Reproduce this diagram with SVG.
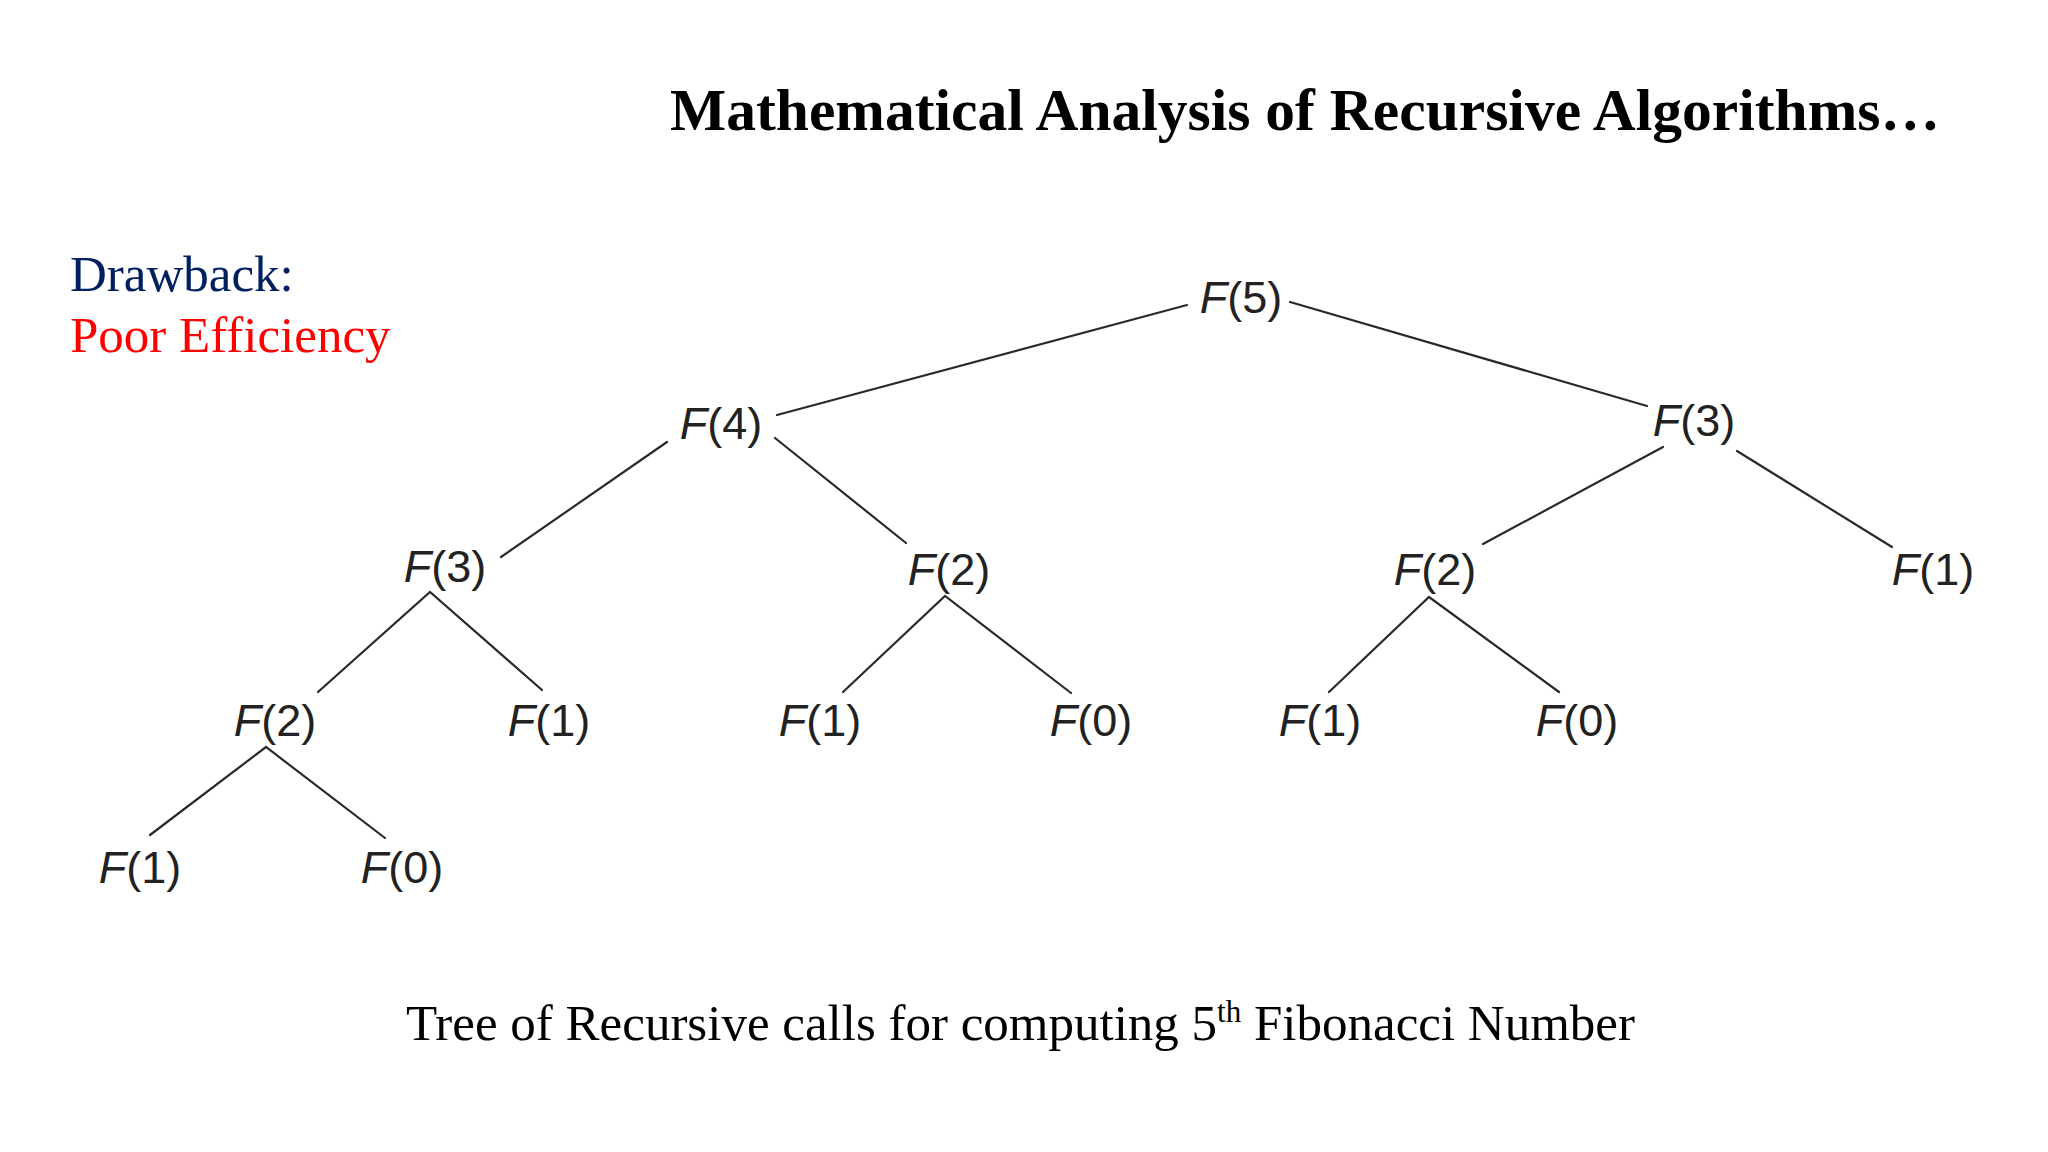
<svg xmlns="http://www.w3.org/2000/svg" width="2048" height="1152" viewBox="0 0 2048 1152">
<style>
.title{font-family:"Liberation Serif","Times New Roman",serif;font-weight:bold;font-size:59px;fill:#000}
.side{font-family:"Liberation Serif","Times New Roman",serif;font-size:51px}
.cap{font-family:"Liberation Serif","Times New Roman",serif;font-size:51px;fill:#000}
.node{font-family:"Liberation Sans",Arial,sans-serif;font-size:45px;fill:#222;text-anchor:middle}
.node .f{font-style:italic}
.edge{stroke:#2a2a2a;stroke-width:2.2;fill:none;stroke-linecap:round}
</style>
<rect width="2048" height="1152" fill="#fff"/>
<text class="title" x="670" y="130" textLength="1270" lengthAdjust="spacingAndGlyphs">Mathematical Analysis of Recursive Algorithms…</text>
<text class="side" x="70" y="291" fill="#002060">Drawback:</text>
<text class="side" x="70" y="352" fill="#FF0000">Poor Efficiency</text>
<g id="connectors">
<line class="edge" x1="1187" y1="305" x2="777" y2="415"/>
<line class="edge" x1="1290" y1="302" x2="1647" y2="406"/>
<line class="edge" x1="667" y1="442" x2="501" y2="557"/>
<line class="edge" x1="775" y1="438" x2="906" y2="543"/>
<line class="edge" x1="1663" y1="447" x2="1483" y2="544"/>
<line class="edge" x1="1737" y1="451" x2="1892" y2="547"/>
<polyline class="edge" points="318,692 430,592 542,690"/>
<polyline class="edge" points="843,692 945,596 1071,693"/>
<polyline class="edge" points="1329,692 1429,597 1559,692"/>
<polyline class="edge" points="150,835 266,747 385,838"/>
</g>
<g id="n-f5"><text class="node" x="1241" y="313"><tspan class="f">F</tspan>(5)</text></g>
<g id="n-f4"><text class="node" x="721" y="439"><tspan class="f">F</tspan>(4)</text></g>
<g id="n-f3r"><text class="node" x="1694" y="436"><tspan class="f">F</tspan>(3)</text></g>
<g id="n-f3l"><text class="node" x="445" y="582"><tspan class="f">F</tspan>(3)</text></g>
<g id="n-f2m"><text class="node" x="949" y="585"><tspan class="f">F</tspan>(2)</text></g>
<g id="n-f2r"><text class="node" x="1435" y="585"><tspan class="f">F</tspan>(2)</text></g>
<g id="n-f1r"><text class="node" x="1933" y="585"><tspan class="f">F</tspan>(1)</text></g>
<g id="n-f2l"><text class="node" x="275" y="736"><tspan class="f">F</tspan>(2)</text></g>
<g id="n-f1a"><text class="node" x="549" y="736"><tspan class="f">F</tspan>(1)</text></g>
<g id="n-f1b"><text class="node" x="820" y="736"><tspan class="f">F</tspan>(1)</text></g>
<g id="n-f0a"><text class="node" x="1091" y="736"><tspan class="f">F</tspan>(0)</text></g>
<g id="n-f1c"><text class="node" x="1320" y="736"><tspan class="f">F</tspan>(1)</text></g>
<g id="n-f0b"><text class="node" x="1577" y="736"><tspan class="f">F</tspan>(0)</text></g>
<g id="n-f1d"><text class="node" x="140" y="883"><tspan class="f">F</tspan>(1)</text></g>
<g id="n-f0c"><text class="node" x="402" y="883"><tspan class="f">F</tspan>(0)</text></g>
<text class="cap" x="406" y="1040">Tree of Recursive calls for computing 5<tspan font-size="31" dy="-18">th</tspan><tspan dy="18"> Fibonacci Number</tspan></text>
</svg>
